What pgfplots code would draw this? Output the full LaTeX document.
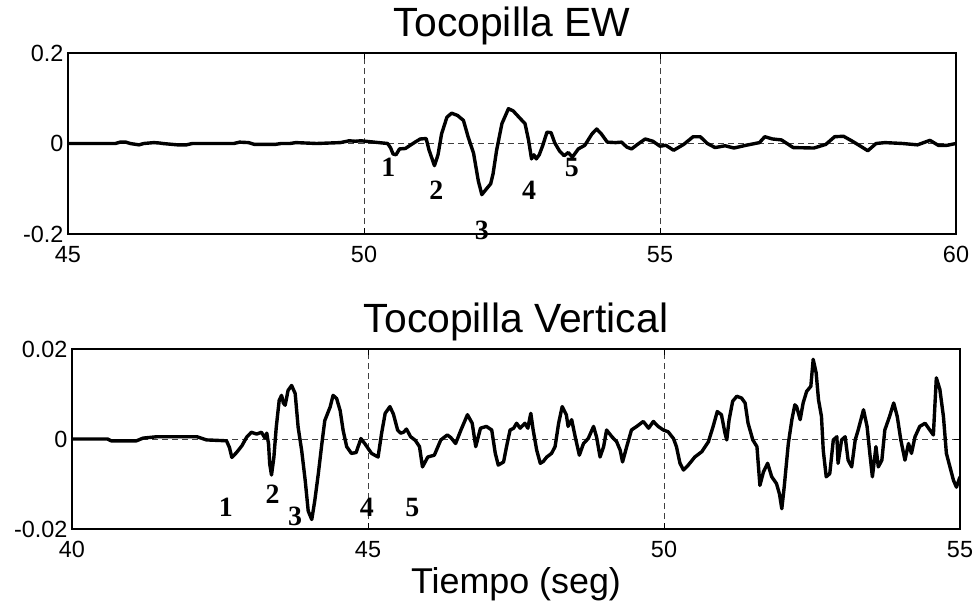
\documentclass[border=0pt]{standalone}
\usepackage{pgfplots}
\pgfplotsset{compat=1.18}
\usepackage{fontspec}
\setmainfont{Liberation Sans}
\newfontfamily\timesfont{Liberation Serif}

\pgfplotstableread{
t v
45.00 0
45.80 0
45.88 0.003
45.98 0.003
46.05 0
46.20 -0.003
46.28 0
46.45 0.002
46.55 0.001
46.60 0
46.85 -0.003
47.00 -0.003
47.10 0
47.80 0
47.90 0.003
48.05 0.002
48.15 -0.002
48.50 -0.002
48.60 0
48.75 0
48.85 0.002
49.20 0
49.60 0.002
49.75 0.006
49.85 0.005
49.95 0.006
50.10 0.004
50.25 0.002
50.40 0
50.45 -0.010
50.49 -0.023
50.54 -0.025
50.60 -0.012
50.70 -0.011
50.78 -0.004
50.85 0.002
50.95 0.010
51.05 0.011
51.10 -0.015
51.19 -0.049
51.25 -0.025
51.31 0.021
51.40 0.058
51.48 0.067
51.58 0.062
51.68 0.051
51.76 0.014
51.85 -0.021
51.93 -0.082
51.99 -0.113
52.07 -0.100
52.14 -0.089
52.18 -0.067
52.24 -0.015
52.33 0.044
52.44 0.077
52.52 0.072
52.64 0.055
52.72 0.044
52.78 0.007
52.83 -0.034
52.87 -0.025
52.91 -0.034
52.96 -0.025
53.02 -0.004
53.09 0.025
53.16 0.024
53.22 0.002
53.30 -0.016
53.38 -0.027
53.45 -0.020
53.52 -0.030
53.62 -0.012
53.73 -0.004
53.85 0.021
53.93 0.032
54.01 0.021
54.11 0.003
54.25 0.002
54.35 0.003
54.44 -0.008
54.52 -0.012
54.62 -0.002
54.75 0.010
54.88 0.005
55.00 -0.006
55.10 -0.004
55.23 -0.015
55.40 -0.002
55.56 0.015
55.68 0.015
55.80 0
55.93 -0.009
56.10 -0.005
56.25 -0.010
56.45 -0.004
56.68 0.002
56.77 0.015
56.90 0.010
57.05 0.008
57.25 -0.009
57.60 -0.010
57.80 -0.002
57.95 0.015
58.10 0.016
58.25 0.005
58.40 -0.007
58.51 -0.016
58.65 0
58.80 0.002
59.10 0
59.35 -0.003
59.56 0.007
59.70 -0.004
59.85 -0.004
60.00 0
}\ewdata

\pgfplotstableread{
t v
40.00 0
40.60 0
40.66 -0.0004
41.09 -0.0004
41.20 0.0002
41.43 0.0005
42.11 0.0005
42.27 -0.0002
42.61 -0.0004
42.66 -0.0019
42.70 -0.0041
42.78 -0.0030
42.87 -0.0015
42.95 0.0004
43.03 0.0015
43.12 0.0011
43.20 0.0015
43.26 0.0002
43.29 0.0013
43.32 -0.0011
43.34 -0.0056
43.37 -0.0080
43.41 -0.0041
43.45 0.0026
43.50 0.0086
43.54 0.0097
43.57 0.0080
43.60 0.0075
43.65 0.0108
43.71 0.0119
43.77 0.0101
43.82 0.0026
43.88 -0.0026
43.94 -0.0093
43.99 -0.0160
44.05 -0.0179
44.10 -0.0138
44.16 -0.0078
44.22 -0.0011
44.27 0.0041
44.36 0.0071
44.41 0.0097
44.47 0.0090
44.53 0.0063
44.58 0.0019
44.64 -0.0017
44.72 -0.0032
44.80 -0.0030
44.88 0.0001
44.95 -0.0011
45.06 -0.0032
45.17 -0.0040
45.23 0.0013
45.29 0.0057
45.37 0.0072
45.43 0.0055
45.50 0.0020
45.55 0.0013
45.60 0.0015
45.65 0.0022
45.72 0.0005
45.80 -0.0003
45.87 -0.0017
45.92 -0.0062
46.01 -0.0040
46.12 -0.0036
46.23 -0.0002
46.34 0.0009
46.40 0.0003
46.48 -0.0010
46.57 0.0020
46.68 0.0054
46.76 0.0035
46.82 -0.0017
46.90 0.0024
47.00 0.0028
47.09 0.0020
47.15 -0.0032
47.20 -0.0058
47.29 -0.0051
47.34 -0.0017
47.40 0.0020
47.46 0.0024
47.51 0.0035
47.57 0.0024
47.65 0.0035
47.70 0.0024
47.75 0.0057
47.79 0.0020
47.85 -0.0025
47.91 -0.0054
47.96 -0.0050
48.02 -0.0040
48.10 -0.0032
48.16 -0.0017
48.22 0.0035
48.28 0.0072
48.35 0.0054
48.38 0.0028
48.44 0.0043
48.50 0.0005
48.57 -0.0036
48.64 -0.0010
48.72 0.0001
48.81 0.0028
48.86 0.0005
48.92 -0.0040
48.98 -0.0017
49.03 0.0020
49.12 0.0005
49.20 -0.0006
49.26 -0.0025
49.30 -0.0051
49.37 -0.0017
49.45 0.0020
49.54 0.0028
49.65 0.0039
49.74 0.0024
49.82 0.0039
49.90 0.0028
49.99 0.0020
50.07 0.0016
50.16 0.0001
50.21 -0.0017
50.27 -0.0054
50.33 -0.0069
50.41 -0.0058
50.52 -0.0040
50.64 -0.0028
50.75 -0.0006
50.83 0.0028
50.90 0.0061
50.97 0.0054
51.03 0.0013
51.06 -0.0002
51.10 0.0043
51.16 0.0084
51.23 0.0095
51.31 0.0091
51.37 0.0080
51.42 0.0035
51.50 -0.0002
51.57 -0.0017
51.62 -0.0103
51.68 -0.0073
51.75 -0.0054
51.82 -0.0084
51.90 -0.0099
51.95 -0.0122
51.99 -0.0155
52.03 -0.0107
52.10 -0.0010
52.16 0.0043
52.21 0.0076
52.24 0.0072
52.30 0.0043
52.35 0.0080
52.41 0.0106
52.48 0.0117
52.52 0.0177
52.57 0.0147
52.61 0.0087
52.66 0.0050
52.69 -0.0025
52.74 -0.0084
52.80 -0.0077
52.86 -0.0002
52.92 0.0005
52.94 -0.0054
53.00 -0.0002
53.06 0.0005
53.11 -0.0047
53.17 -0.0062
53.23 -0.0002
53.28 0.0020
53.37 0.0065
53.43 0.0028
53.48 -0.0036
53.52 -0.0084
53.58 -0.0017
53.62 -0.0062
53.68 -0.0047
53.73 0.0020
53.81 0.0050
53.88 0.0080
53.94 0.0050
54.00 -0.0002
54.07 -0.0047
54.13 -0.0010
54.18 -0.0032
54.24 0.0005
54.32 0.0028
54.41 0.0035
54.49 0.0020
54.55 0.0009
54.60 0.0136
54.66 0.0110
54.72 0.0050
54.77 -0.0032
54.83 -0.0062
54.89 -0.0092
54.94 -0.0107
55.00 -0.0084
}\vertdata

\tikzset{numlab/.style={font=\timesfont\bfseries\fontsize{28}{28}\selectfont}}

\begin{document}
\begin{tikzpicture}
\path[use as bounding box] (0bp,0bp) rectangle (974bp,-608bp);
\pgfplotsset{
  every axis/.append style={
    scale only axis, width=888bp,
    axis line style={line width=1.2bp},
    tick style={black, line width=1bp},
    major tick length=6bp,
    tick align=inside,
    scaled ticks=false,
    xmajorgrids, ymajorgrids,
    grid style={black!75, line width=0.8bp, dash pattern=on 6bp off 4bp},
    ticklabel style={font=\fontsize{23.5}{23.5}\selectfont},
    xticklabel style={yshift=-9bp},
    yticklabel style={xshift=-1bp},
    title style={font=\fontsize{41}{41}\selectfont, at={(0.5,1)}, anchor=base, yshift=11bp},
    clip mode=individual,
  },
}
\begin{axis}[at={(68bp,-53bp)}, anchor=north west, height=181bp,
  xmin=45, xmax=60, ymin=-0.2, ymax=0.2,
  xtick={45,50,55,60}, xticklabels={45,50,55,60},
  ytick={-0.2,0,0.2}, yticklabels={-0.2,0,0.2},
  title={Tocopilla EW}]
\addplot[black, line width=3.4bp, line join=round] table[x=t,y=v] {\ewdata};
\node[numlab] at (axis cs:50.41,-0.052) {1};
\node[numlab] at (axis cs:51.22,-0.104) {2};
\node[numlab] at (axis cs:51.99,-0.192) {3};
\node[numlab] at (axis cs:52.79,-0.104) {4};
\node[numlab] at (axis cs:53.51,-0.052) {5};
\end{axis}
\begin{axis}[at={(72bp,-349bp)}, anchor=north west, height=180bp,
  xmin=40, xmax=55, ymin=-0.02, ymax=0.02,
  xtick={40,45,50,55}, xticklabels={40,45,50,55},
  ytick={-0.02,0,0.02}, yticklabels={-0.02,0,0.02},
  title={Tocopilla Vertical},
  xlabel={Tiempo (seg)},
  xlabel style={font=\fontsize{36}{36}\selectfont, at={(0.5,0)}, anchor=base, yshift=-64bp}]
\addplot[black, line width=3.4bp, line join=round] table[x=t,y=v] {\vertdata};
\node[numlab] at (axis cs:42.60,-0.0152) {1};
\node[numlab] at (axis cs:43.39,-0.0123) {2};
\node[numlab] at (axis cs:43.77,-0.0173) {3};
\node[numlab] at (axis cs:44.98,-0.0152) {4};
\node[numlab] at (axis cs:45.75,-0.0152) {5};
\end{axis}
\end{tikzpicture}
\end{document}
